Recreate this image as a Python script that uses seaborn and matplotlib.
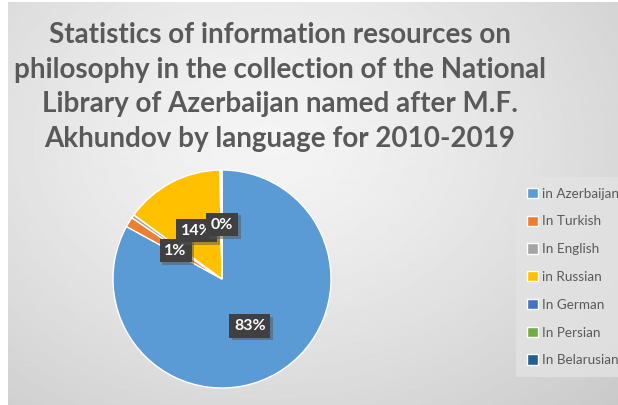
import numpy as np
import matplotlib
matplotlib.use("Agg")
import matplotlib.pyplot as plt
import matplotlib.patheffects as pe
import seaborn as sns

# Data
languages = ["in Azerbaijan", "In Turkish", "In English", "in Russian",
             "In German", "In Persian", "In Belarusian"]
shares = [83.0, 1.5, 0.5, 14.7, 0.1, 0.1, 0.1]
shown_labels = ["83%", "1%", "", "14%", "", "", "0%"]
colors = ["#5B9BD5", "#ED7D31", "#A5A5A5", "#FFC000", "#4472C4", "#70AD47", "#255E91"]
title = ("Statistics of information resources on\n"
         "philosophy in the collection of the National\n"
         "Library of Azerbaijan named after M.F.\n"
         "Akhundov by language for 2010-2019")

sns.set_theme(style="white")
plt.rcParams["font.family"] = ["Lato", "DejaVu Sans"]

W, H = 618, 405
fig = plt.figure(figsize=(W / 100, H / 100), dpi=100)
fig.patch.set_facecolor("white")

# grey radial background of the chart area
bg = fig.add_axes([8 / W, 0, 1 - 8 / W, 1 - 2 / H])
yy, xx = np.mgrid[0:H, 0:W - 8]
d = np.hypot(xx - 260, (yy - 140) * 1.3)
shade = np.clip(0.96 - 0.14 * (d / 420) ** 1.3, 0.78, 0.97)
bg.imshow(shade, cmap="gray", vmin=0, vmax=1, aspect="auto")
bg.axis("off")

fig.text(280 / W, 1 - 87 / H, title, ha="center", va="center",
         fontsize=20.0, fontweight="bold", color="#595959", linespacing=1.4)

# pie
cx, cy, r = 222, 279, 109
ax = fig.add_axes([(cx - r) / W, (H - cy - r) / H, 2 * r / W, 2 * r / H])
wedges, _ = ax.pie(shares, colors=colors, startangle=90, counterclock=False,
                   radius=1)
ax.set_xlim(-1, 1)
ax.set_ylim(-1, 1)
ax.set_aspect("equal")
ax.axis("off")

for w, lab in zip(wedges, shown_labels):
    if not lab:
        continue
    ang = np.deg2rad((w.theta1 + w.theta2) / 2)
    t = ax.text(0.5 * np.cos(ang), 0.5 * np.sin(ang), lab, ha="center", va="center",
                fontsize=11.5, fontweight="bold", color="white",
                bbox=dict(boxstyle="square,pad=0.3", fc="#404040", ec="none"))
    t.get_bbox_patch().set_path_effects([
        pe.SimplePatchShadow(offset=(2, -2), shadow_rgbFace="#555555", alpha=0.5),
        pe.Normal()])

leg = fig.legend(wedges, languages, loc="upper left",
                 bbox_to_anchor=(520 / W, 1 - 181 / H), frameon=True,
                 fontsize=9.7, labelcolor="#595959", handlelength=0.8,
                 handleheight=0.8, handletextpad=0.35, labelspacing=1.17,
                 borderpad=0.5, borderaxespad=0)
leg.get_frame().set_facecolor("#e3e3e3")
leg.get_frame().set_edgecolor("none")
leg.get_frame().set_boxstyle("square")

fig.savefig("out.png", dpi=100)
